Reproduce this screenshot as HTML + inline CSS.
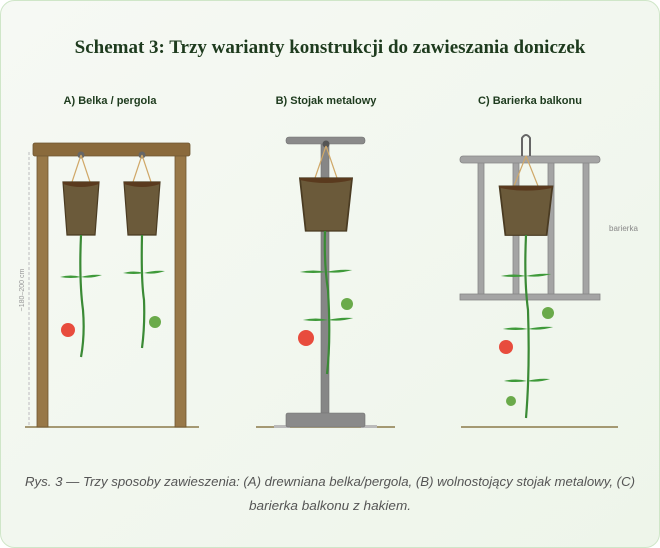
<!DOCTYPE html>
<html><head><meta charset="utf-8"><style>
html,body{margin:0;padding:0;background:#fff;width:660px;height:548px;overflow:hidden}
</style></head><body>
<svg width="660" height="548" viewBox="0 0 660 548" xmlns="http://www.w3.org/2000/svg">
<defs>
<linearGradient id="bg" x1="0" y1="0" x2="1" y2="1"><stop offset="0" stop-color="#f6f9f4"/><stop offset="1" stop-color="#eef5ea"/></linearGradient>
<g id="pot">
<path d="M-18,0 L18,0 L14,53 L-14,53 Z" fill="#6b5a3a" stroke="#4a3b22" stroke-width="1.2"/>
<path d="M-18,0 L18,0 L18,2 Q0,8 -18,2 Z" fill="#5a3a1e"/>
</g>
<g id="leaf">
<path d="M-21,0 Q-10,-3 0,0 Q-10,2 -21,0 Z M0,0 Q10,-3 21,-2 Q10,2 0,0 Z" fill="#3f9a3a"/>
</g>
</defs>
<rect x="0.5" y="0.5" width="659" height="547" rx="14" fill="url(#bg)" stroke="#cfe6c8"/>
<text x="330" y="53" text-anchor="middle" font-family="Liberation Serif,serif" font-weight="bold" font-size="19" fill="#1e3b1e">Schemat 3: Trzy warianty konstrukcji do zawieszania doniczek</text>
<g font-family="Liberation Sans,sans-serif" font-weight="bold" font-size="11" fill="#1e3b1e" text-anchor="middle">
<text x="110" y="104">A) Belka / pergola</text>
<text x="326" y="104">B) Stojak metalowy</text>
<text x="530" y="104">C) Barierka balkonu</text>
</g>

<!-- Panel A -->
<line x1="25" y1="427" x2="199" y2="427" stroke="#8b7a4a" stroke-width="1.5"/>
<line x1="29" y1="152" x2="29" y2="425" stroke="#cfcfcf" stroke-width="1.5" stroke-dasharray="3,2"/>
<text transform="translate(24,290) rotate(-90)" text-anchor="middle" font-family="Liberation Sans,sans-serif" font-size="7" fill="#999">~180–200 cm</text>
<rect x="37" y="152" width="11" height="275" fill="#987848" stroke="#6e5530" stroke-width="0.8"/>
<rect x="175" y="152" width="11" height="275" fill="#987848" stroke="#6e5530" stroke-width="0.8"/>
<rect x="33" y="143" width="157" height="13" rx="2" fill="#8a6a3c" stroke="#6e5530" stroke-width="0.8"/>
<circle cx="81" cy="155" r="3.5" fill="#666"/><circle cx="142" cy="155" r="3.5" fill="#666"/>
<path d="M81,155 L72,182 M81,155 L90,182 M142,155 L133,182 M142,155 L151,182" stroke="#d0a868" stroke-width="1.2" fill="none"/>
<use href="#pot" x="81" y="182"/><use href="#pot" x="142" y="182"/>
<path d="M81,235 Q79,280 83,310 Q85,335 81,357" stroke="#3a8a35" stroke-width="2.2" fill="none"/>
<use href="#leaf" x="81" y="277"/>
<circle cx="68" cy="330" r="7" fill="#e84c3d"/>
<path d="M142,235 Q141,280 144,300 Q145,325 142,348" stroke="#3a8a35" stroke-width="2.2" fill="none"/>
<use href="#leaf" x="144" y="273"/>
<circle cx="155" cy="322" r="6" fill="#6aaa4a"/>

<!-- Panel B -->
<line x1="256" y1="427" x2="395" y2="427" stroke="#8b7a4a" stroke-width="1.5"/>
<rect x="274" y="425" width="16" height="3" fill="#bbb"/><rect x="361" y="425" width="16" height="3" fill="#bbb"/>
<rect x="321" y="143" width="8" height="272" fill="#868686" stroke="#707070" stroke-width="0.6"/>
<rect x="286" y="137" width="79" height="7" rx="3" fill="#8a8a8a" stroke="#707070" stroke-width="0.6"/>
<rect x="286" y="413" width="79" height="14" rx="2" fill="#8a8a8a" stroke="#707070" stroke-width="0.6"/>
<circle cx="326" cy="144" r="3.5" fill="#555"/>
<path d="M326,146 L315,178 M326,146 L337,178" stroke="#d0a868" stroke-width="1.2"/>
<g transform="translate(326,178) scale(1.45,1)"><use href="#pot"/></g>
<path d="M325,231 Q324,265 328,290 Q331,340 327,374" stroke="#3a8a35" stroke-width="2.2" fill="none"/>
<g transform="translate(326,272) scale(1.25,1)"><use href="#leaf"/></g>
<g transform="translate(328,320) scale(1.2,1)"><use href="#leaf"/></g>
<circle cx="347" cy="304" r="6" fill="#6aaa4a"/>
<circle cx="306" cy="338" r="8" fill="#e84c3d"/>

<!-- Panel C -->
<line x1="461" y1="427" x2="618" y2="427" stroke="#8b7a4a" stroke-width="1.5"/>
<g fill="#a4a4a4" stroke="#868686" stroke-width="0.8">
<rect x="478" y="160" width="6" height="136"/><rect x="513" y="160" width="6" height="136"/>
<rect x="548" y="160" width="6" height="136"/><rect x="583" y="160" width="6" height="136"/>
<rect x="460" y="156" width="140" height="7" rx="3"/>
<rect x="460" y="294" width="140" height="6"/>
</g>
<path d="M522,156 L522,138 Q526,132 530,138 L530,156" stroke="#666" stroke-width="2" fill="none"/>
<path d="M526,156 L514,186 M526,156 L538,186" stroke="#d0a868" stroke-width="1.2"/>
<g transform="translate(526,186) scale(1.47,0.93)"><use href="#pot"/></g>
<path d="M526,235 Q524,280 528,310 Q530,370 526,418" stroke="#3a8a35" stroke-width="2.2" fill="none"/>
<g transform="translate(526,276) scale(1.2,1)"><use href="#leaf"/></g>
<g transform="translate(528,329) scale(1.2,1)"><use href="#leaf"/></g>
<g transform="translate(527,381) scale(1.1,1)"><use href="#leaf"/></g>
<circle cx="548" cy="313" r="6" fill="#6aaa4a"/>
<circle cx="506" cy="347" r="7" fill="#e84c3d"/>
<circle cx="511" cy="401" r="5" fill="#6aaa4a"/>
<text x="609" y="231" font-family="Liberation Sans,sans-serif" font-size="8" fill="#888">barierka</text>

<g font-family="Liberation Sans,sans-serif" font-style="italic" font-size="13" fill="#555" text-anchor="middle">
<text x="330" y="486" textLength="610" lengthAdjust="spacingAndGlyphs">Rys. 3 — Trzy sposoby zawieszenia: (A) drewniana belka/pergola, (B) wolnostojący stojak metalowy, (C)</text>
<text x="330" y="510" textLength="162" lengthAdjust="spacingAndGlyphs">barierka balkonu z hakiem.</text>
</g>
</svg>
</body></html>
